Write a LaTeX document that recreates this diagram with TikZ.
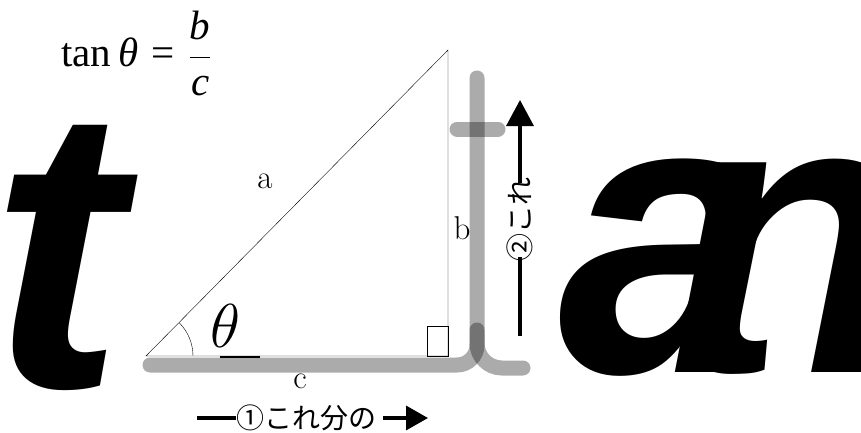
\RequirePackage{fix-cm}
\documentclass[tikz,border=0pt]{standalone}
\usepackage{fontspec}
\newfontfamily\timesfont{Liberation Serif}
\newfontfamily\heavyfont{Liberation Sans}
\newfontfamily\jpfont{Noto Sans CJK JP}
\usetikzlibrary{arrows.meta}
\begin{document}
\begin{tikzpicture}[x=1pt,y=-1pt,every node/.style={inner sep=0pt},
  graystroke/.style={line width=15pt,line cap=round,draw opacity=0.33},
  bigletter/.style={font=\heavyfont\bfseries\itshape\fontsize{#1}{#1}\selectfont,anchor=base west},
  jplabel/.style={font=\jpfont\fontsize{28}{30}\selectfont},
  sidelabel/.style={font=\fontsize{33}{33}\selectfont}]
\useasboundingbox (0,0) rectangle (861,433);
% big letters behind
\node[bigletter=402] (bigt) at (-10,387) {t};
\node[bigletter=397] (bigan) at (558,372) {a\kern-110pt n};
% formula
\node[anchor=base west,font=\timesfont\fontsize{41}{45}\selectfont] (formula) at (61,67)
  {tan\,\textit{θ}\,\,=\,\,$\displaystyle\frac{\textit{b}}{\textit{c}}$};
% triangle
\coordinate (A) at (146,356);
\coordinate (B) at (448,356);
\coordinate (C) at (448,50);
\draw (A) -- (B) -- (C) -- cycle;
\draw (B) rectangle ++(-21,-30);
\draw ([xshift=47pt]A) arc[start angle=0,end angle=-45,radius=47];
\draw[line width=1.2pt] (220,357) -- (260,357);
\node[font=\fontsize{62}{62}\selectfont] (theta) at (225,326) {$\theta$};
\node[sidelabel] (la) at (265,181) {a};
\node[sidelabel] (lb) at (462,228) {b};
\node[sidelabel] (lc) at (300,381) {c};
% gray strokes
\draw[graystroke,rounded corners=20pt] (150,365) -- (477,365) -- (477,78);
\draw[graystroke,rounded corners=25pt] (477,330) -- (477,368) -- (523,368);
\draw[graystroke] (457,129) -- (498,129);
% arrows with labels
\node[jplabel,anchor=west] (one) at (236,418) {①これ分の};
\coordinate (onestart) at (197,418);
\coordinate (oneend) at (428,418);
\draw[line width=3.5pt] (onestart) -- (one.west);
\draw[line width=3.5pt,-{Triangle[length=22pt,width=24pt]}] ([xshift=7pt]one.east) -- (oneend);
\node[jplabel,rotate=90] (two) at (520,219) {②これ};
\coordinate (twostart) at (520,336);
\coordinate (twoend) at (520,100);
\draw[line width=3.5pt] (twostart) -- ([yshift=4pt]two.west);
\draw[line width=3.5pt,-{Triangle[length=26pt,width=27pt]}] ([yshift=-6pt]two.east) -- (twoend);
\end{tikzpicture}
\end{document}
